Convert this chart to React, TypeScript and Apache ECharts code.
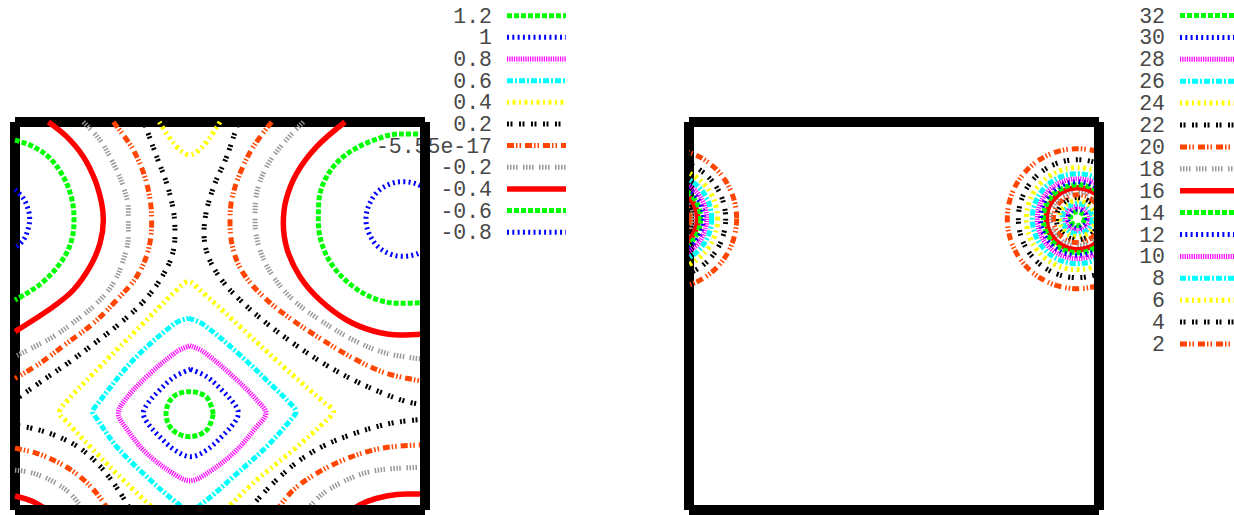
import React, { useEffect, useRef } from 'react';
import * as echarts from 'echarts';

// ---------- legend labels (top to bottom) ----------
const LEFT_LEVELS = ['1.2', '1', '0.8', '0.6', '0.4', '0.2', '-5.55e-17', '-0.2', '-0.4', '-0.6', '-0.8'];
const RIGHT_LEVELS = ['32', '30', '28', '26', '24', '22', '20', '18', '16', '14', '12', '10', '8', '6', '4', '2'];

// ---------- left plot: contour pieces (data units, x 0..12.3, y 0..11.64) ----------
const L_1_2 = [
  [[5.95, 2.88], [5.75, 3.38], [5.24, 3.55], [4.73, 3.38], [4.53, 2.88], [4.73, 2.4], [5.24, 2.2], [5.75, 2.4], [5.95, 2.88]],
];
const L_1_0 = [
  [[5.27, 4.22], [5.75, 4.0], [6.25, 3.55], [6.6, 3.15], [6.7, 2.91], [6.6, 2.65], [6.25, 2.25], [5.75, 1.8], [5.27, 1.6],
   [4.79, 1.8], [4.29, 2.25], [3.95, 2.65], [3.85, 2.91], [3.95, 3.15], [4.29, 3.55], [4.79, 4.0], [5.27, 4.22]],
];
const L_0_8 = [
  [[5.25, 4.93], [5.65, 4.75], [6.55, 4.0], [7.25, 3.3], [7.53, 2.9], [7.25, 2.5], [6.55, 1.7], [5.65, 1.03], [5.25, 0.88],
   [4.85, 1.03], [3.95, 1.7], [3.3, 2.5], [3.1, 2.9], [3.3, 3.3], [3.95, 4.0], [4.85, 4.75], [5.25, 4.93]],
];
const L_0_6 = [
  [[5.2, 5.75], [5.6, 5.6], [6.75, 4.65], [7.85, 3.6], [8.33, 3.12], [8.43, 2.95], [8.31, 2.75], [7.55, 1.9], [6.55, 1.0],
   [5.75, 0.3], [5.25, 0.0], [4.75, 0.3], [3.95, 1.0], [3.05, 1.9], [2.45, 2.75], [2.33, 2.95], [2.45, 3.15], [3.55, 4.5],
   [4.8, 5.6], [5.2, 5.75]],
];
const L_0_4 = [
  [[4.2, 0.0], [3.35, 0.8], [2.35, 1.8], [1.55, 2.65], [1.33, 2.92], [1.5, 3.2], [2.55, 4.3], [3.75, 5.5], [4.85, 6.6],
   [5.2, 6.85], [5.55, 6.6], [6.75, 5.5], [8.05, 4.3], [9.3, 3.2], [9.55, 2.95], [9.35, 2.7], [8.35, 1.8], [7.25, 0.9], [6.3, 0.0]],
  [[4.33, 11.64], [4.65, 11.15], [4.95, 10.8], [5.23, 10.65], [5.53, 10.8], [5.83, 11.15], [6.15, 11.64]],
];
const L_0_2 = [
  [[3.87, 11.64], [4.25, 10.6], [4.55, 9.8], [4.75, 9.0], [4.8, 8.3], [4.7, 7.6], [4.35, 6.9], [3.85, 6.25], [3.15, 5.6],
   [2.45, 5.05], [1.65, 4.45], [0.85, 3.9], [0.0, 3.3]],
  [[6.7, 11.64], [6.35, 10.6], [6.0, 9.8], [5.75, 9.0], [5.67, 8.3], [5.8, 7.6], [6.2, 6.9], [6.75, 6.3], [7.55, 5.6],
   [8.35, 5.0], [9.25, 4.4], [10.15, 3.9], [11.05, 3.5], [11.75, 3.25], [12.3, 3.15]],
  [[0.0, 2.55], [0.65, 2.42], [1.25, 2.22], [1.85, 1.92], [2.35, 1.52], [2.75, 1.08], [3.1, 0.6], [3.47, 0.0]],
  [[7.0, 0.0], [7.45, 0.5], [7.95, 1.0], [8.55, 1.5], [9.25, 1.92], [10.05, 2.25], [10.85, 2.5], [11.55, 2.65], [12.3, 2.72]],
];
const L_0_0 = [
  [[2.95, 11.64], [3.55, 10.8], [3.95, 9.8], [4.1, 8.7], [4.0, 7.8], [3.65, 7.0], [3.05, 6.3], [2.35, 5.6], [1.55, 5.0],
   [0.75, 4.4], [0.0, 3.95]],
  [[7.7, 11.64], [7.15, 10.9], [6.75, 10.1], [6.5, 9.3], [6.45, 8.6], [6.55, 7.8], [6.85, 7.1], [7.45, 6.4], [8.25, 5.75],
   [9.15, 5.15], [10.15, 4.55], [11.15, 4.1], [12.3, 3.85]],
  [[0.0, 1.85], [0.65, 1.7], [1.35, 1.4], [1.95, 1.0], [2.45, 0.5], [2.8, 0.0]],
  [[7.85, 0.0], [8.35, 0.6], [9.05, 1.1], [9.85, 1.5], [10.75, 1.8], [11.55, 1.92], [12.3, 1.95]],
];
const L_M0_2 = [
  [[2.05, 11.64], [2.55, 11.1], [2.95, 10.4], [3.25, 9.7], [3.4, 9.0], [3.4, 8.2], [3.25, 7.5], [2.95, 6.8], [2.45, 6.2],
   [1.85, 5.7], [1.15, 5.2], [0.55, 4.88], [0.0, 4.6]],
  [[8.65, 11.64], [8.05, 11.0], [7.55, 10.3], [7.25, 9.5], [7.2, 8.7], [7.35, 7.8], [7.75, 7.0], [8.35, 6.3], [9.15, 5.7],
   [10.15, 5.1], [11.15, 4.7], [12.3, 4.52]],
  [[0.0, 1.2], [0.55, 1.1], [1.15, 0.85], [1.65, 0.5], [2.05, 0.0]],
  [[8.75, 0.0], [9.25, 0.5], [9.95, 0.9], [10.65, 1.15], [11.45, 1.25], [12.3, 1.28]],
];
const L_M0_4 = [
  [[1.0, 11.64], [1.55, 11.2], [2.05, 10.6], [2.4, 9.9], [2.6, 9.2], [2.65, 8.7], [2.55, 8.0], [2.25, 7.3], [1.75, 6.6],
   [1.15, 6.1], [0.55, 5.7], [0.0, 5.35]],
  [[9.9, 11.64], [9.05, 10.9], [8.45, 10.1], [8.13, 9.3], [8.05, 8.6], [8.17, 7.8], [8.55, 7.0], [9.15, 6.3], [9.95, 5.7],
   [10.75, 5.37], [11.55, 5.25], [12.3, 5.28]],
  [[0.0, 0.42], [0.55, 0.25], [0.95, 0.0]],
  [[10.1, 0.0], [10.55, 0.25], [11.15, 0.42], [11.75, 0.48], [12.3, 0.48]],
];
const L_M0_6 = [
  [[0.0, 11.1], [0.55, 10.9], [1.05, 10.55], [1.45, 10.0], [1.7, 9.35], [1.77, 8.7], [1.67, 8.0], [1.35, 7.4], [0.85, 6.85],
   [0.35, 6.5], [0.0, 6.3]],
  [[12.3, 11.28], [11.55, 11.28], [10.65, 11.05], [9.85, 10.6], [9.35, 10.0], [9.12, 9.3], [9.1, 8.7], [9.2, 8.0], [9.55, 7.3],
   [10.15, 6.7], [10.85, 6.32], [11.55, 6.2], [12.3, 6.22]],
];
const L_M0_8 = [
  [[0.0, 9.61], [0.25, 9.35], [0.4, 9.0], [0.44, 8.73], [0.4, 8.45], [0.25, 8.1], [0.0, 7.85]],
  [[12.3, 9.64], [12.05, 9.78], [11.65, 9.85], [11.25, 9.78], [10.85, 9.52], [10.6, 9.1], [10.53, 8.73], [10.6, 8.35],
   [10.85, 7.94], [11.25, 7.68], [11.65, 7.61], [12.05, 7.68], [12.3, 7.82]],
];
const LEFT_CONTOURS = [L_1_2, L_1_0, L_0_8, L_0_6, L_0_4, L_0_2, L_0_0, L_M0_2, L_M0_4, L_M0_6, L_M0_8];

// ---------- right plot: circular contours around two singular points ----------
const RIGHT_CENTERS = [[-0.67, 8.74], [11.65, 8.74]];
// radius of each level (same order as RIGHT_LEVELS), data units
const RIGHT_RADII = [0.21, 0.285, 0.36, 0.45, 0.54, 0.63, 0.72, 0.81, 0.93, 1.02, 1.11, 1.2, 1.35, 1.53, 1.77, 2.1];

// ---------- line styles (gnuplot-like cycle) ----------
const STYLES: { color: string; width: number; dash: number[] | null }[] = [
  { color: '#00ff00', width: 5, dash: [5, 2] },
  { color: '#0000ff', width: 5, dash: [2, 3.3] },
  { color: '#ff00ff', width: 5, dash: [1.2, 1.1] },
  { color: '#00ffff', width: 5, dash: [6, 2, 2, 2] },
  { color: '#ffff00', width: 5, dash: [2, 3.5, 3, 3.5] },
  { color: '#000000', width: 5, dash: [2, 1.5, 2, 6.5] },
  { color: '#ff4500', width: 5, dash: [7, 2, 1.5, 2, 1.5, 4] },
  { color: '#999999', width: 5, dash: [1.5, 1.5, 1.5, 1.5, 1.5, 1.5, 1.5, 5.5] },
  { color: '#ff0000', width: 5.5, dash: null },
];

const FONT = '21.5px "Liberation Mono", "DejaVu Sans Mono", monospace';

export default function App() {
  const ref = useRef<HTMLDivElement>(null);

  useEffect(() => {
    if (!ref.current) return;
    const chart = echarts.init(ref.current, null, { renderer: 'svg' });

    const series: any[] = [];
    LEFT_CONTOURS.forEach((segs, i) => {
      const s = STYLES[i % 9];
      segs.forEach((seg) => {
        series.push({
          type: 'line',
          xAxisIndex: 0,
          yAxisIndex: 0,
          data: seg,
          smooth: 0.35,
          symbol: 'none',
          showSymbol: false,
          clip: true,
          silent: true,
          lineStyle: { color: s.color, width: s.width, type: s.dash ?? 'solid', cap: 'butt' },
        });
      });
    });

    const circleData: number[][] = [];
    RIGHT_CENTERS.forEach((c) => {
      RIGHT_RADII.forEach((r, i) => circleData.push([c[0], c[1], r, i]));
    });
    series.push({
      type: 'custom',
      xAxisIndex: 1,
      yAxisIndex: 1,
      clip: true,
      silent: true,
      encode: { x: 0, y: 1 },
      data: circleData,
      renderItem: (params: any, api: any) => {
        const p = api.coord([api.value(0), api.value(1)]);
        const rr = api.size([api.value(2), 0])[0];
        const s = STYLES[api.value(3) % 9];
        return {
          type: 'circle',
          shape: { cx: p[0], cy: p[1], r: rr },
          style: { fill: 'none', stroke: s.color, lineWidth: s.width, lineDash: s.dash || null },
        };
      },
    });

    const graphics: any[] = [];
    const frame = (x0: number, x1: number) => {
      const y0 = 122, y1 = 510;
      const mk = (a: number, b: number, c: number, d: number, z: number) => ({
        type: 'line', z, silent: true,
        shape: { x1: a, y1: b, x2: c, y2: d },
        style: { stroke: '#000', lineWidth: 10, lineCap: 'butt' },
      });
      graphics.push(mk(x0, y0, x1, y0, 0));
      graphics.push(mk(x0, y0, x0, y1, 0));
      graphics.push(mk(x1, y0, x1, y1, 10));
      graphics.push(mk(x0, y1, x1, y1, 10));
    };
    frame(15, 425);
    frame(689, 1099);

    const legend = (labels: string[], tx: number, lx0: number, lx1: number, y0: number, step: number) => {
      labels.forEach((lbl, i) => {
        const s = STYLES[i % 9];
        const y = y0 + step * i;
        graphics.push({
          type: 'text', x: tx, y: y + 1, z: 5, silent: true,
          style: { text: lbl, font: FONT, fill: '#484848', align: 'right', verticalAlign: 'middle',
            textAlign: 'right', textVerticalAlign: 'middle' },
        });
        graphics.push({
          type: 'line', z: 5, silent: true,
          shape: { x1: lx0, y1: y, x2: lx1, y2: y },
          style: { stroke: s.color, lineWidth: s.width, lineDash: s.dash || null, lineCap: 'butt' },
        });
      });
    };
    legend(LEFT_LEVELS, 492, 507, 566, 15.7, 21.65);
    legend(RIGHT_LEVELS, 1165, 1180, 1240, 15.5, 21.9);

    const axisCommon = { type: 'value', show: false, min: 0, max: 12.15 };
    const yAxisCommon = { type: 'value', show: false, min: 0.15, max: 11.64 };

    chart.setOption({
      animation: false,
      backgroundColor: '#ffffff',
      grid: [
        { left: 15, top: 122, width: 405, height: 383 },
        { left: 689, top: 122, width: 405, height: 383 },
      ],
      xAxis: [
        { ...axisCommon, gridIndex: 0 },
        { ...axisCommon, gridIndex: 1 },
      ],
      yAxis: [
        { ...yAxisCommon, gridIndex: 0 },
        { ...yAxisCommon, gridIndex: 1 },
      ],
      series,
      graphic: { elements: graphics },
    });

    return () => chart.dispose();
  }, []);

  return (
    <div
      ref={ref}
      style={{ position: 'fixed', left: 0, top: 0, width: 1234, height: 515, background: '#fff' }}
    />
  );
}
